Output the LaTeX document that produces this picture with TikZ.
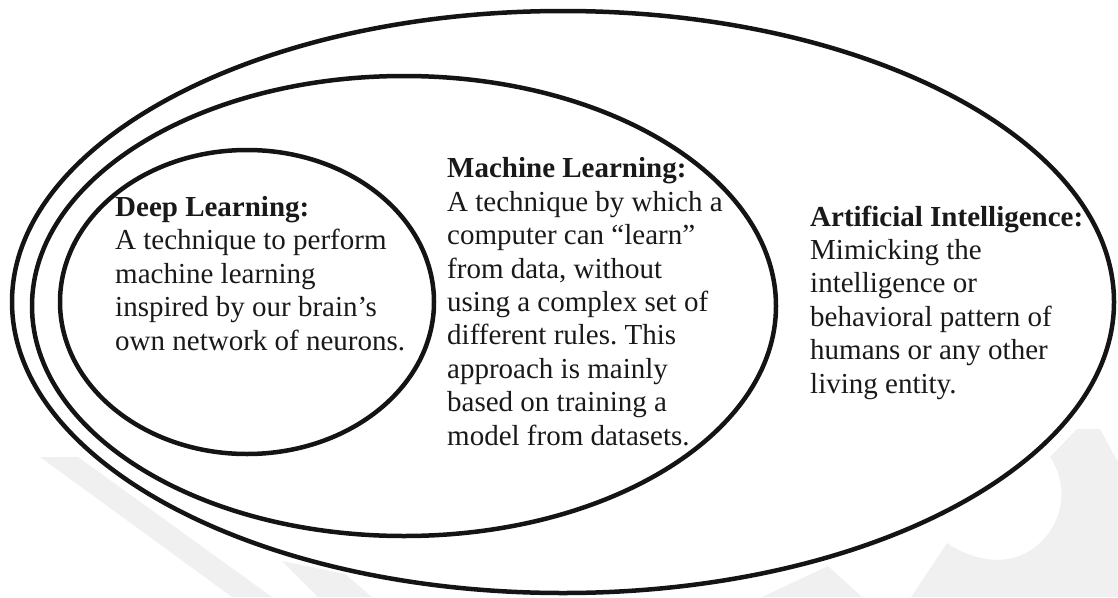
\documentclass[tikz,border=0pt]{standalone}
\usepackage{fontspec}
\setmainfont{Liberation Serif}
\usetikzlibrary{shapes.geometric}
\frenchspacing
\begin{document}
\begin{tikzpicture}[x=1pt,y=-1pt,
  ring/.style={draw=black!92, line width=4.5pt, ellipse, inner sep=0pt, outer sep=0pt},
  lbl/.style={anchor=base west, inner sep=0pt, align=left, font=\fontsize{29}{33.4}\selectfont, text=black!90},
  wm/.style={fill=black!6, draw=none}]
\useasboundingbox (0,0) rectangle (1118,597);
% faint watermark shapes
\fill[wm] (40,457) -- (78,457) -- (272,597) -- (232,597) -- cycle;
\fill[wm] (282,561) -- (345,574) -- (372,597) -- (318,597) -- cycle;
\fill[wm] (762,597) -- (828,566) -- (862,597) -- cycle;
\fill[wm] (1077,429) -- (1100,429) -- (1118,462) -- (1118,597) -- (911,597) -- (947,543)
  .. controls (975,562) and (1010,567) .. (1035,547)
  .. controls (1060,528) and (1072,490) .. (1050,457) -- cycle;
% ellipses
\node[ring, minimum width=1102pt, minimum height=582pt] (aiE) at (563,302) {};
\node[ring, minimum width=744pt, minimum height=460pt] (mlE) at (404,306) {};
\node[ring, minimum width=374pt, minimum height=304pt] (dlE) at (247,302) {};
% texts (anchored at the baseline of their last line)
\node[lbl] (dl) at (115,350) {\textbf{Deep Learning:}\\A technique to perform\\machine learning\\inspired by our brain’s\\own network of neurons.};
\node[lbl] (ml) at (447,445) {\textbf{Machine Learning:}\\A technique by which a\\computer can “learn”\\from data, without\\using a complex set of\\different rules. This\\approach is mainly\\based on training a\\model from datasets.};
\node[lbl] (ai) at (810,393) {\textbf{Artificial Intelligence:}\\Mimicking the\\intelligence or\\behavioral pattern of\\humans or any other\\living entity.};
\end{tikzpicture}
\end{document}
